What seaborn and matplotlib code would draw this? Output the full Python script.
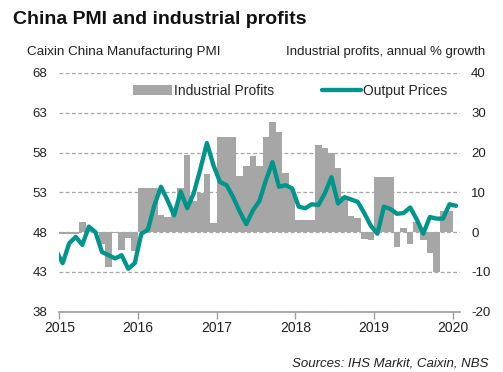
import matplotlib

matplotlib.use("Agg")
import matplotlib.pyplot as plt
import numpy as np
import pandas as pd
import seaborn as sns

# Industrial profits, annual % growth (Jan 2015 - Dec 2019, Jan/Feb shown at the March value)
profits = [
    -0.4, -0.4, -0.4, 2.6, 0.6, -0.3, -2.9, -8.8, -0.1, -4.6, -1.4, -4.7,
    11.1, 11.1, 11.1, 4.2, 3.7, 5.1, 11.0, 19.5, 7.7, 9.8, 14.5, 2.3,
    23.8, 23.8, 23.8, 14.0, 16.7, 19.1, 16.5, 24.0, 27.7, 25.1, 14.9, 10.8,
    3.1, 3.1, 3.1, 21.9, 21.1, 20.0, 16.2, 9.2, 4.1, 3.6, -1.8, -1.9,
    13.9, 13.9, 13.9, -3.7, 1.1, -3.1, 2.6, -2.0, -5.3, -9.9, 5.4, 5.4,
]
# Caixin China manufacturing PMI output prices (Dec 2014 - Jan 2020)
output_prices = [
    45.7,
    44.1, 46.6, 47.4, 46.4, 48.7, 48.0, 45.5, 45.1, 44.7, 45.1, 43.4, 44.1,
    47.8, 48.3, 51.4, 53.7, 52.0, 50.1, 53.1, 51.0, 52.9, 55.9, 59.2, 56.4,
    54.3, 53.9, 52.4, 50.6, 49.0, 50.7, 51.9, 54.5, 56.8, 53.7, 53.9, 53.5,
    51.2, 51.0, 51.5, 51.4, 52.9, 54.9, 51.6, 52.4, 52.1, 51.8, 50.4, 48.8,
    47.8, 51.2, 50.9, 50.3, 50.4, 51.1, 49.6, 47.8, 49.9, 49.7, 49.7, 51.5,
    51.3,
]
years = [2015, 2016, 2017, 2018, 2019, 2020]
pmi_ticks = [38, 43, 48, 53, 58, 63, 68]
profit_ticks = [-20, -10, 0, 10, 20, 30, 40]

profit_dates = pd.date_range("2015-01-01", periods=len(profits), freq="MS")
pmi_dates = pd.date_range("2014-12-01", periods=len(output_prices), freq="MS")


def month_pos(d):
    # months since Jan 2015, centred in the month
    return (d.year - 2015) * 12 + d.month - 1 + 0.5


df_bar = pd.DataFrame({"x": month_pos(profit_dates), "profit": profits})
df_line = pd.DataFrame({"x": month_pos(pmi_dates), "pmi": output_prices})

sns.set_theme(style="white")
plt.rcParams["font.family"] = ["Liberation Sans", "DejaVu Sans"]

grey = "#a6a6a6"
teal = "#00958a"

fig = plt.figure(figsize=(5.03, 3.72), dpi=100)
ax = fig.add_subplot(111)
fig.subplots_adjust(left=0.118, right=0.9145, top=0.804, bottom=0.162)
ax2 = ax.twinx()

sns.barplot(
    data=df_bar, x="x", y="profit", native_scale=True, width=1,
    color=grey, saturation=1, linewidth=0, errorbar=None, ax=ax2,
)
sns.lineplot(data=df_line, x="x", y="pmi", color=teal, linewidth=3.1, ax=ax)
ax.lines[0].set_solid_capstyle("round")
ax.lines[0].set_solid_joinstyle("round")

ax.set_zorder(ax2.get_zorder() + 1)
ax.patch.set_visible(False)

ax.set_xlim(0, 61.1)
ax2.set_xlim(0, 61.1)
ax.set_ylim(38, 68)
ax2.set_ylim(-20, 40)

ax.set_xticks([(y - 2015) * 12 for y in years])
ax.set_xticklabels([str(y) for y in years])
ax.set_yticks(pmi_ticks)
ax2.set_yticks(profit_ticks)
ax2.set_yticklabels([str(t) for t in profit_ticks])

ax2.yaxis.grid(True, color=grey, linestyle=(0, (3, 2)), linewidth=0.9)
ax2.xaxis.grid(False)
ax.grid(False)
ax2.set_axisbelow(True)

for a in (ax, ax2):
    for s in ["top", "left", "right"]:
        a.spines[s].set_visible(False)
    a.spines["bottom"].set_color("#a0a0a0")
    a.set_xlabel("")
    a.set_ylabel("")
ax2.spines["bottom"].set_visible(False)

ax.tick_params(axis="x", bottom=True, length=5, width=1, color="#a0a0a0",
               pad=2, labelsize=10, labelcolor="#222222")
ax.tick_params(axis="y", length=0, pad=8.5, labelsize=9.5, labelcolor="#222222")
ax2.tick_params(axis="y", length=0, pad=8, labelsize=9.5, labelcolor="#222222")

handles = [ax2.containers[0], ax.lines[0]]
ax.legend(
    handles, ["Industrial Profits", "Output Prices"], loc="center",
    bbox_to_anchor=(0.576, 0.925), ncol=2, frameon=False, fontsize=10,
    handlelength=2.8, handletextpad=0.15, columnspacing=3.4,
)

fig.text(13 / 503, 0.9355, "China PMI and industrial profits", fontsize=14,
         fontweight="bold", color="#111111", ha="left", va="baseline")
fig.text(27 / 503, 0.852, "Caixin China Manufacturing PMI", fontsize=9.7,
         color="#222222", ha="left", va="baseline")
fig.text(485 / 503, 0.852, "Industrial profits, annual % growth", fontsize=9.5,
         color="#222222", ha="right", va="baseline")
fig.text(488 / 503, 0.016, "Sources: IHS Markit, Caixin, NBS", fontsize=9.5,
         style="italic", color="#222222", ha="right", va="baseline")

fig.savefig("out.png", dpi=100)
